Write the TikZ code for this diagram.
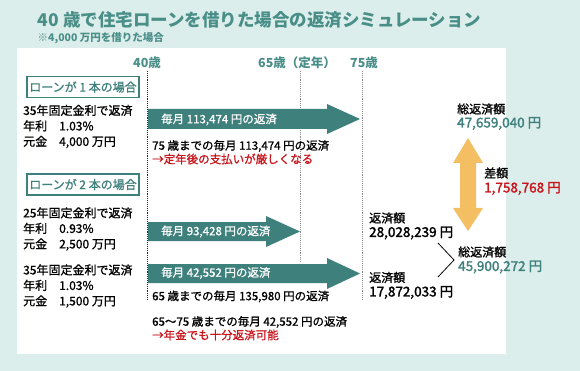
\documentclass[tikz,border=0pt]{standalone}
\usepackage{fontspec}
\setmainfont{Noto Sans CJK JP}
\newfontfamily\jpmedium{Noto Sans CJK JP}[FakeBold=1.0]
\newfontfamily\jpheavy{Noto Sans CJK JP}[FakeBold=1.8]
\definecolor{bgteal}{HTML}{DCEEEC}
\definecolor{arrteal}{HTML}{3E807C}
\definecolor{ttlteal}{HTML}{4A8E88}
\definecolor{alertred}{HTML}{C8161D}
\definecolor{diffgold}{HTML}{F3BF62}
\tikzstyle{headline} = [anchor=west, inner sep=0pt, text=ttlteal, font=\fontsize{17.5}{20}\selectfont\bfseries]
\tikzstyle{subnote} = [anchor=west, inner sep=0pt, text=ttlteal, font=\fontsize{10.5}{12}\selectfont\bfseries]
\tikzstyle{agelabel} = [inner sep=0pt, text=ttlteal, font=\fontsize{12.5}{14}\selectfont\bfseries]
\tikzstyle{ageline} = [densely dotted, line width=0.9pt]
\tikzstyle{casebox} = [rectangle, draw=arrteal, line width=1.2pt, text=arrteal, minimum width=112pt, minimum height=21pt, inner sep=0pt, font=\fontsize{12}{14}\jpmedium]
\tikzstyle{loantext} = [anchor=west, align=left, inner sep=0pt, font=\fontsize{12}{15.5}\jpmedium]
\tikzstyle{planarrow} = [fill=arrteal]
\tikzstyle{planlabel} = [anchor=west, inner sep=0pt, text=white, font=\fontsize{11.5}{13}\jpmedium]
\tikzstyle{remark} = [anchor=west, inner sep=0pt, font=\fontsize{11.5}{13}\jpmedium]
\tikzstyle{sumlabel} = [anchor=west, inner sep=0pt, font=\fontsize{12}{14}\jpmedium]
\tikzstyle{sumvalue} = [anchor=west, inner sep=0pt, font=\fontsize{13.5}{15}\jpheavy]

\begin{document}
\begin{tikzpicture}[x=1pt, y=-1pt]
\useasboundingbox (0,0) rectangle (580,371);
\fill[bgteal] (0,0) rectangle (580,371);
\fill[white] (17,48) rectangle (506,354);

% title
\node (title) [headline] at (37.5,20) {40 歳で住宅ローンを借りた場合の返済シミュレーション};
\node (note) [subnote] at (37.5,38) {※4,000 万円を借りた場合};

% age axis
\node (age40) [agelabel] at (147,63) {40歳};
\node (age65) [agelabel] at (297,63) {65歳（定年）};
\node (age75) [agelabel] at (364,63) {75歳};
\coordinate (end40) at (147.5,300);
\coordinate (end65) at (300,262);
\coordinate (end75) at (362,300);
\draw [ageline, black!85] (147.5,71) -- (end40);
\draw [ageline, black!45] (300,71) -- (end65);
\draw [ageline, black!45] (362,71) -- (end75);

% one loan
\node (caseA) [casebox] at (83,87) {ローンが 1 本の場合};
\node (loanA) [loantext] at (23,126.5) {35年固定金利で返済\\年利\hspace{1em}1.03\%\\元金\hspace{1em}4,000 万円};
\fill [planarrow] (148,109) -- (327,109) -- (327,104) -- (360,119) -- (327,134) -- (327,129) -- (148,129) -- cycle;
\node (payA) [planlabel] at (161,119.5) {毎月 113,474 円の返済};
\node (remA) [remark] at (152,146) {75 歳までの毎月 113,474 円の返済};
\node (warnA) [remark, text=alertred] at (152,159) {→定年後の支払いが厳しくなる};

% two loans
\node (caseB) [casebox] at (83,184.5) {ローンが 2 本の場合};
\node (loanB) [loantext] at (23,229) {25年固定金利で返済\\年利\hspace{1em}0.93\%\\元金\hspace{1em}2,500 万円};
\node (loanC) [loantext] at (23,286) {35年固定金利で返済\\年利\hspace{1em}1.03\%\\元金\hspace{1em}1,500 万円};
\fill [planarrow] (148,222) -- (266,222) -- (266,216) -- (300,231.5) -- (266,247) -- (266,241) -- (148,241) -- cycle;
\node (payB) [planlabel] at (161,231.5) {毎月 93,428 円の返済};
\fill [planarrow] (148,264) -- (327,264) -- (327,258) -- (360,273.5) -- (327,289) -- (327,283) -- (148,283) -- cycle;
\node (payC) [planlabel] at (161,273) {毎月 42,552 円の返済};
\node (remB) [remark] at (152,296.5) {65 歳までの毎月 135,980 円の返済};
\node (remC) [remark] at (152,322) {65～75 歳までの毎月 42,552 円の返済};
\node (okC) [remark, text=alertred] at (152,335) {→年金でも十分返済可能};

% totals
\node (totA) [sumlabel] at (457,109) {総返済額};
\node (totAval) [sumvalue, text=arrteal] at (457,123.5) {47,659,040 円};
\fill [diffgold] (468,138) -- (483,163) -- (476,163) -- (476,208) -- (483,208) -- (468,231) -- (453,208) -- (460,208) -- (460,163) -- (453,163) -- cycle;
\node (diff) [sumlabel] at (484,173) {差額};
\node (diffval) [sumvalue, text=alertred] at (484,188.5) {1,758,768 円};
\node (subB) [sumlabel] at (369,218) {返済額};
\node (subBval) [sumvalue] at (369,233) {28,028,239 円};
\node (subC) [sumlabel] at (369,277.5) {返済額};
\node (subCval) [sumvalue] at (369,292.5) {17,872,033 円};
\node (totB) [sumlabel] at (458,252) {総返済額};
\node (totBval) [sumvalue, text=arrteal] at (458,267) {45,900,272 円};
\coordinate (brtop) at (438,243);
\coordinate (brtip) at (454,260);
\coordinate (brbot) at (438,277);
\draw [line width=0.8pt] (brtop) -- (brtip) -- (brbot);
\end{tikzpicture}
\end{document}
